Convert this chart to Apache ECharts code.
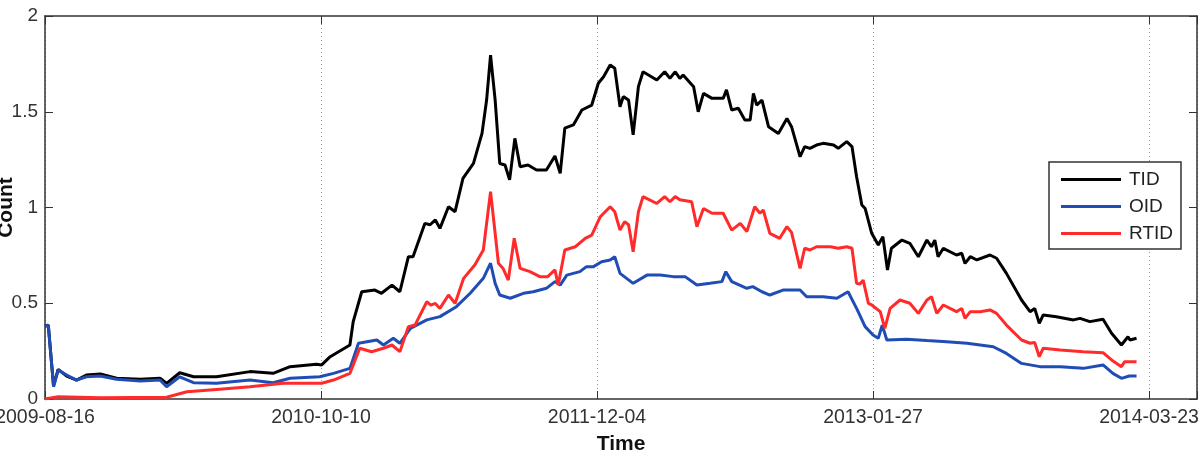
<!DOCTYPE html>
<html><head><meta charset="utf-8">
<script src="https://cdn.jsdelivr.net/npm/echarts@6/dist/echarts.min.js"></script>
<style>html,body{margin:0;padding:0;background:#fff}#c{width:1203px;height:456px}</style>
</head><body><div id="c"></div>
<script>
// x values: days since 2009-08-16
const startDate = Date.UTC(2009, 7, 16);
const xTickInterval = 420;
const xMax = 1753;

const tidDays = [0,5,13,20,33,48,63,84,109,145,175,185,205,226,261,312,347,373,413,421,434,464,469,482,502,512,528,540,553,560,578,586,594,601,614,624,636,652,665,672,678,685,692,700,707,715,723,735,748,763,776,784,791,804,817,832,842,850,860,867,875,880,888,895,903,910,931,943,951,959,966,971,987,994,1002,1015,1032,1037,1045,1055,1065,1073,1078,1083,1091,1101,1116,1129,1136,1149,1156,1164,1174,1184,1200,1207,1220,1228,1235,1243,1248,1258,1268,1275,1282,1288,1304,1316,1329,1342,1349,1354,1359,1367,1387,1395,1400,1408,1418,1438,1448,1463,1486,1499,1506,1513,1519,1539,1565,1575,1590,1610,1623,1638,1648,1651,1661];
const tidVals = [0.38,0.386,0.07,0.155,0.12,0.099,0.125,0.131,0.108,0.103,0.108,0.082,0.137,0.116,0.116,0.143,0.134,0.169,0.181,0.178,0.221,0.282,0.404,0.56,0.569,0.552,0.595,0.56,0.743,0.743,0.917,0.91,0.935,0.891,1.004,0.978,1.152,1.23,1.387,1.561,1.796,1.561,1.23,1.222,1.144,1.361,1.213,1.222,1.196,1.196,1.269,1.178,1.414,1.431,1.509,1.535,1.649,1.683,1.744,1.727,1.526,1.579,1.561,1.379,1.631,1.709,1.666,1.709,1.674,1.709,1.674,1.692,1.631,1.50,1.596,1.57,1.57,1.614,1.509,1.518,1.457,1.457,1.596,1.535,1.561,1.422,1.387,1.465,1.422,1.265,1.318,1.309,1.326,1.335,1.326,1.309,1.344,1.318,1.161,1.013,0.995,0.865,0.804,0.848,0.674,0.787,0.83,0.813,0.743,0.83,0.795,0.83,0.743,0.787,0.752,0.761,0.708,0.743,0.726,0.752,0.735,0.656,0.517,0.456,0.473,0.395,0.439,0.43,0.413,0.421,0.404,0.416,0.343,0.282,0.325,0.308,0.317];

const oidDays = [0,5,13,20,33,48,63,84,109,145,175,185,205,226,261,312,347,373,418,439,464,477,505,515,530,540,556,581,601,626,647,667,678,685,692,708,728,743,763,776,784,794,814,824,834,847,860,867,875,895,916,936,956,974,992,1012,1030,1036,1045,1068,1077,1091,1103,1123,1138,1149,1159,1184,1205,1222,1235,1248,1260,1268,1274,1281,1311,1342,1372,1403,1443,1463,1486,1514,1545,1580,1610,1625,1638,1650,1661];
const oidVals = [0.38,0.386,0.064,0.151,0.125,0.099,0.116,0.12,0.103,0.094,0.099,0.064,0.116,0.085,0.082,0.099,0.085,0.108,0.116,0.134,0.16,0.291,0.308,0.282,0.317,0.291,0.369,0.413,0.43,0.482,0.552,0.63,0.709,0.604,0.543,0.526,0.552,0.56,0.578,0.613,0.595,0.647,0.665,0.691,0.69,0.717,0.726,0.743,0.656,0.604,0.647,0.647,0.639,0.639,0.595,0.604,0.613,0.665,0.613,0.578,0.587,0.56,0.543,0.569,0.569,0.569,0.534,0.534,0.526,0.56,0.473,0.378,0.334,0.317,0.386,0.308,0.312,0.305,0.299,0.291,0.273,0.238,0.186,0.169,0.169,0.16,0.178,0.134,0.108,0.12,0.12];

const rtidDays = [0,20,84,185,216,261,312,362,421,439,464,479,497,515,528,540,553,563,581,587,594,601,614,624,637,654,667,678,690,697,705,714,723,738,753,765,776,781,791,807,822,832,845,860,867,875,882,888,895,903,910,931,943,951,959,966,984,992,1002,1015,1032,1045,1058,1068,1080,1088,1093,1103,1118,1129,1136,1149,1156,1164,1174,1195,1207,1220,1228,1235,1240,1245,1253,1258,1271,1278,1286,1301,1316,1329,1342,1349,1357,1367,1387,1395,1400,1408,1423,1438,1448,1463,1486,1499,1506,1513,1519,1545,1580,1610,1623,1638,1643,1661];
const rtidVals = [0,0.012,0.007,0.009,0.038,0.05,0.064,0.082,0.082,0.099,0.134,0.265,0.247,0.265,0.282,0.247,0.378,0.386,0.508,0.49,0.499,0.473,0.543,0.499,0.63,0.70,0.778,1.083,0.709,0.682,0.621,0.839,0.682,0.665,0.639,0.639,0.674,0.595,0.778,0.795,0.839,0.856,0.952,1.004,0.978,0.882,0.926,0.91,0.769,0.978,1.057,1.021,1.057,1.03,1.057,1.04,1.03,0.90,0.995,0.97,0.97,0.882,0.917,0.874,1.004,0.97,0.987,0.865,0.839,0.90,0.87,0.682,0.787,0.778,0.795,0.795,0.787,0.795,0.787,0.604,0.6,0.621,0.499,0.491,0.456,0.369,0.473,0.517,0.5,0.447,0.517,0.534,0.447,0.491,0.456,0.473,0.421,0.456,0.456,0.465,0.447,0.386,0.308,0.291,0.295,0.221,0.265,0.256,0.247,0.242,0.204,0.169,0.195,0.195];

const seriesNames = ['TID','OID','RTID'];
const seriesColors = ['#000000','#1f4db5','#ff2b2b'];

function pairs(d, v){ return d.map((x,i)=>[x, v[i]]); }
function dateLabel(v){
  if (v % xTickInterval !== 0) return '';
  return new Date(startDate + v*86400000).toISOString().slice(0,10);
}
const FONT = 'Liberation Sans';
const frame = {show:true, onZero:false, lineStyle:{color:'#333', width:1.5}};

const chart = echarts.init(document.getElementById('c'), null, {renderer:'canvas'});
chart.setOption({
  animation:false,
  backgroundColor:'#fff',
  grid:{left:45, right:6, top:16, bottom:57, containLabel:false, outerBoundsMode:'none'},
  legend:{
    orient:'vertical', left:1049, top:162,
    padding:[8,8,6,12], itemGap:8, itemWidth:60, itemHeight:3,
    icon:'rect',
    backgroundColor:'#fff', borderColor:'#333', borderWidth:1.5,
    textStyle:{fontFamily:FONT, fontSize:19, color:'#222', padding:[0,0,0,3]},
    data:seriesNames
  },
  xAxis:[{
    type:'value', min:0, max:xMax, interval:xTickInterval, position:'bottom',
    name:'Time', nameLocation:'middle', nameGap:35,
    nameTextStyle:{fontFamily:FONT, fontSize:21, fontWeight:'bold', color:'#111'},
    axisLine:frame,
    axisTick:{show:true, inside:true, length:8, lineStyle:{color:'#333'}},
    axisLabel:{formatter:dateLabel, fontFamily:FONT, fontSize:19.5, color:'#333', margin:9},
    splitLine:{show:true, lineStyle:{type:[1,3], color:'#999', width:1}}
  },{
    type:'value', min:0, max:xMax, interval:xTickInterval, position:'top',
    axisLine:frame,
    axisTick:{show:true, inside:true, length:8, lineStyle:{color:'#333'}},
    axisLabel:{show:false}, splitLine:{show:false}
  }],
  yAxis:[{
    type:'value', min:0, max:2, interval:0.5, position:'left',
    name:'Count', nameLocation:'middle', nameGap:28, nameMoveOverlap:false,
    nameTextStyle:{fontFamily:FONT, fontSize:21, fontWeight:'bold', color:'#111'},
    axisLine:frame,
    axisTick:{show:true, inside:true, length:8, lineStyle:{color:'#333'}},
    axisLabel:{fontFamily:FONT, fontSize:19, color:'#333', margin:7},
    splitLine:{show:false}
  },{
    type:'value', min:0, max:2, interval:0.5, position:'right',
    axisLine:frame,
    axisTick:{show:true, inside:true, length:8, lineStyle:{color:'#333'}},
    axisLabel:{show:false}, splitLine:{show:false}
  }],
  series:[
    {name:'TID', type:'line', data:pairs(tidDays, tidVals), showSymbol:false, color:seriesColors[0], lineStyle:{width:3, color:seriesColors[0]}},
    {name:'OID', type:'line', data:pairs(oidDays, oidVals), showSymbol:false, color:seriesColors[1], lineStyle:{width:3, color:seriesColors[1]}},
    {name:'RTID', type:'line', data:pairs(rtidDays, rtidVals), showSymbol:false, color:seriesColors[2], lineStyle:{width:3, color:seriesColors[2]}}
  ]
});
</script></body></html>
